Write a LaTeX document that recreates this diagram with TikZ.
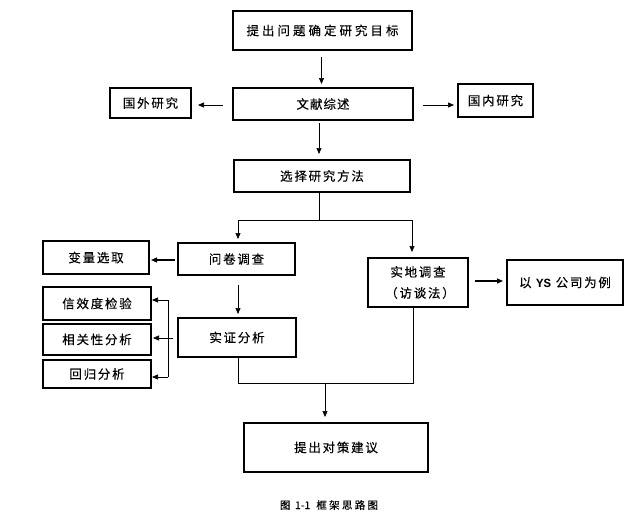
\documentclass[tikz,border=0pt]{standalone}
\usepackage{fontspec}
\setmainfont[LetterSpace=14,FakeBold=0.2]{Noto Sans CJK SC}
\newfontfamily\monoys{Liberation Mono}
\usetikzlibrary{arrows.meta}
\tikzset{
  box/.style={draw, line width=1.2pt, inner sep=0pt, outer sep=0pt, font=\fontsize{12.5}{21}\selectfont, align=center},
  line/.style={draw, line width=0.7pt},
  arr/.style={line, -{Triangle[length=6pt,width=5pt]}},
  barr/.style={draw, line width=1.3pt, -{Triangle[length=6pt,width=5pt]}},
}
\begin{document}
\begin{tikzpicture}[x=1pt,y=-1pt]
\useasboundingbox (0,0) rectangle (638,515);
% nodes
\node[box, minimum width=179pt, minimum height=39pt] (A) at (322.5,30.5) {\addfontfeature{LetterSpace=24}提出问题确定研究目标};
\node[box, minimum width=180pt, minimum height=32pt] (B) at (323,104) {\addfontfeature{LetterSpace=8}文献综述};
\node[box, minimum width=81pt, minimum height=30pt] (F) at (150.5,103) {国外研究};
\node[box, minimum width=75pt, minimum height=33pt] (N) at (495.5,100.5) {国内研究};
\node[box, minimum width=176pt, minimum height=32pt] (C) at (322,176) {选择研究方法};
\node[box, minimum width=117pt, minimum height=32pt] (Q) at (236.5,259) {问卷调查};
\node[box, minimum width=106pt, minimum height=33pt] (V) at (96,257.5) {变量选取};
\node[box, minimum width=118pt, minimum height=39pt] (E) at (237,337.5) {实证分析};
\node[box, minimum width=108pt, minimum height=33pt] (X1) at (97,303.5) {信效度检验};
\node[box, minimum width=108pt, minimum height=31pt] (X2) at (97,339.5) {相关性分析};
\node[box, minimum width=108pt, minimum height=28pt] (X3) at (97,374) {回归分析};
\node[box, minimum width=100pt, minimum height=49pt] (S) at (418,282.5) {实地调查\\\hspace*{4pt}（访谈法）};
\node[box, minimum width=116pt, minimum height=45pt] (Y) at (565,282.5) {以 {\monoys\bfseries YS} 公司为例};
\node[box, minimum width=184pt, minimum height=49pt] (P) at (336,447.5) {提出对策建议};
\node[font=\fontsize{10.5}{12}\selectfont\addfontfeature{LetterSpace=22}] (cap) at (329,505) {图 {\addfontfeature{LetterSpace=0}1-1}\hspace{6pt}框架思路图};
% connectors
\draw[arr, shorten <=7pt, shorten >=4pt] ([xshift=-1pt]A.south) -- ([xshift=-1pt]A.south |- B.north);
\draw[arr, shorten <=10pt, shorten >=7pt] ([yshift=-1pt]B.west) -- ([yshift=-1pt]B.west -| F.east);
\draw[arr, shorten <=10pt, shorten >=4pt] ([yshift=-1pt]B.east) -- ([yshift=-1pt]B.east -| N.west);
\draw[arr, shorten <=3pt, shorten >=6pt] ([xshift=-4pt]B.south) -- ([xshift=-4pt]B.south |- C.north);
\coordinate (c1) at (319,220);
\draw[line] (c1 |- C.south) -- (c1);
\draw[arr, shorten >=4pt] (c1) -| ([xshift=1.5pt]Q.north);
\draw[arr, shorten >=6pt] (c1) -| ([xshift=-6pt]S.north);
\draw[barr, shorten <=3pt, shorten >=2pt] ([yshift=-1pt]Q.west) -- ([yshift=-1pt]Q.west -| V.east);
\draw[arr, shorten <=10pt, shorten >=4pt] ([xshift=1.5pt]Q.south) -- ([xshift=1.5pt]Q.south |- E.north);
\draw[barr, shorten <=7pt, shorten >=4pt] ([yshift=1.5pt]S.east) -- ([yshift=1.5pt]S.east -| Y.west);
% bracket to analysis boxes
\coordinate (br) at (168,337);
\coordinate (x1a) at ([yshift=3.5pt]X1.east);
\coordinate (x3a) at ([yshift=-3pt]X3.east);
\draw[line] (x1a -| br) -- (x3a -| br);
\draw[arr, shorten >=1pt] (x1a -| br) -- (x1a);
\draw[arr, shorten >=1pt] (x3a -| br) -- (x3a);
\draw[arr, shorten <=5pt, shorten >=2pt] ([yshift=-0.5pt]E.west) -- ([yshift=-0.5pt]E.west -| X2.east);
% merge
\coordinate (m) at (325,383);
\draw[line] ([xshift=1pt]E.south) -- ([xshift=1pt]E.south |- m) -- ([xshift=-5pt]S.south |- m) -- ([xshift=-5pt]S.south);
\draw[arr, shorten >=6pt] (m) -- (m |- P.north);
\end{tikzpicture}
\end{document}
